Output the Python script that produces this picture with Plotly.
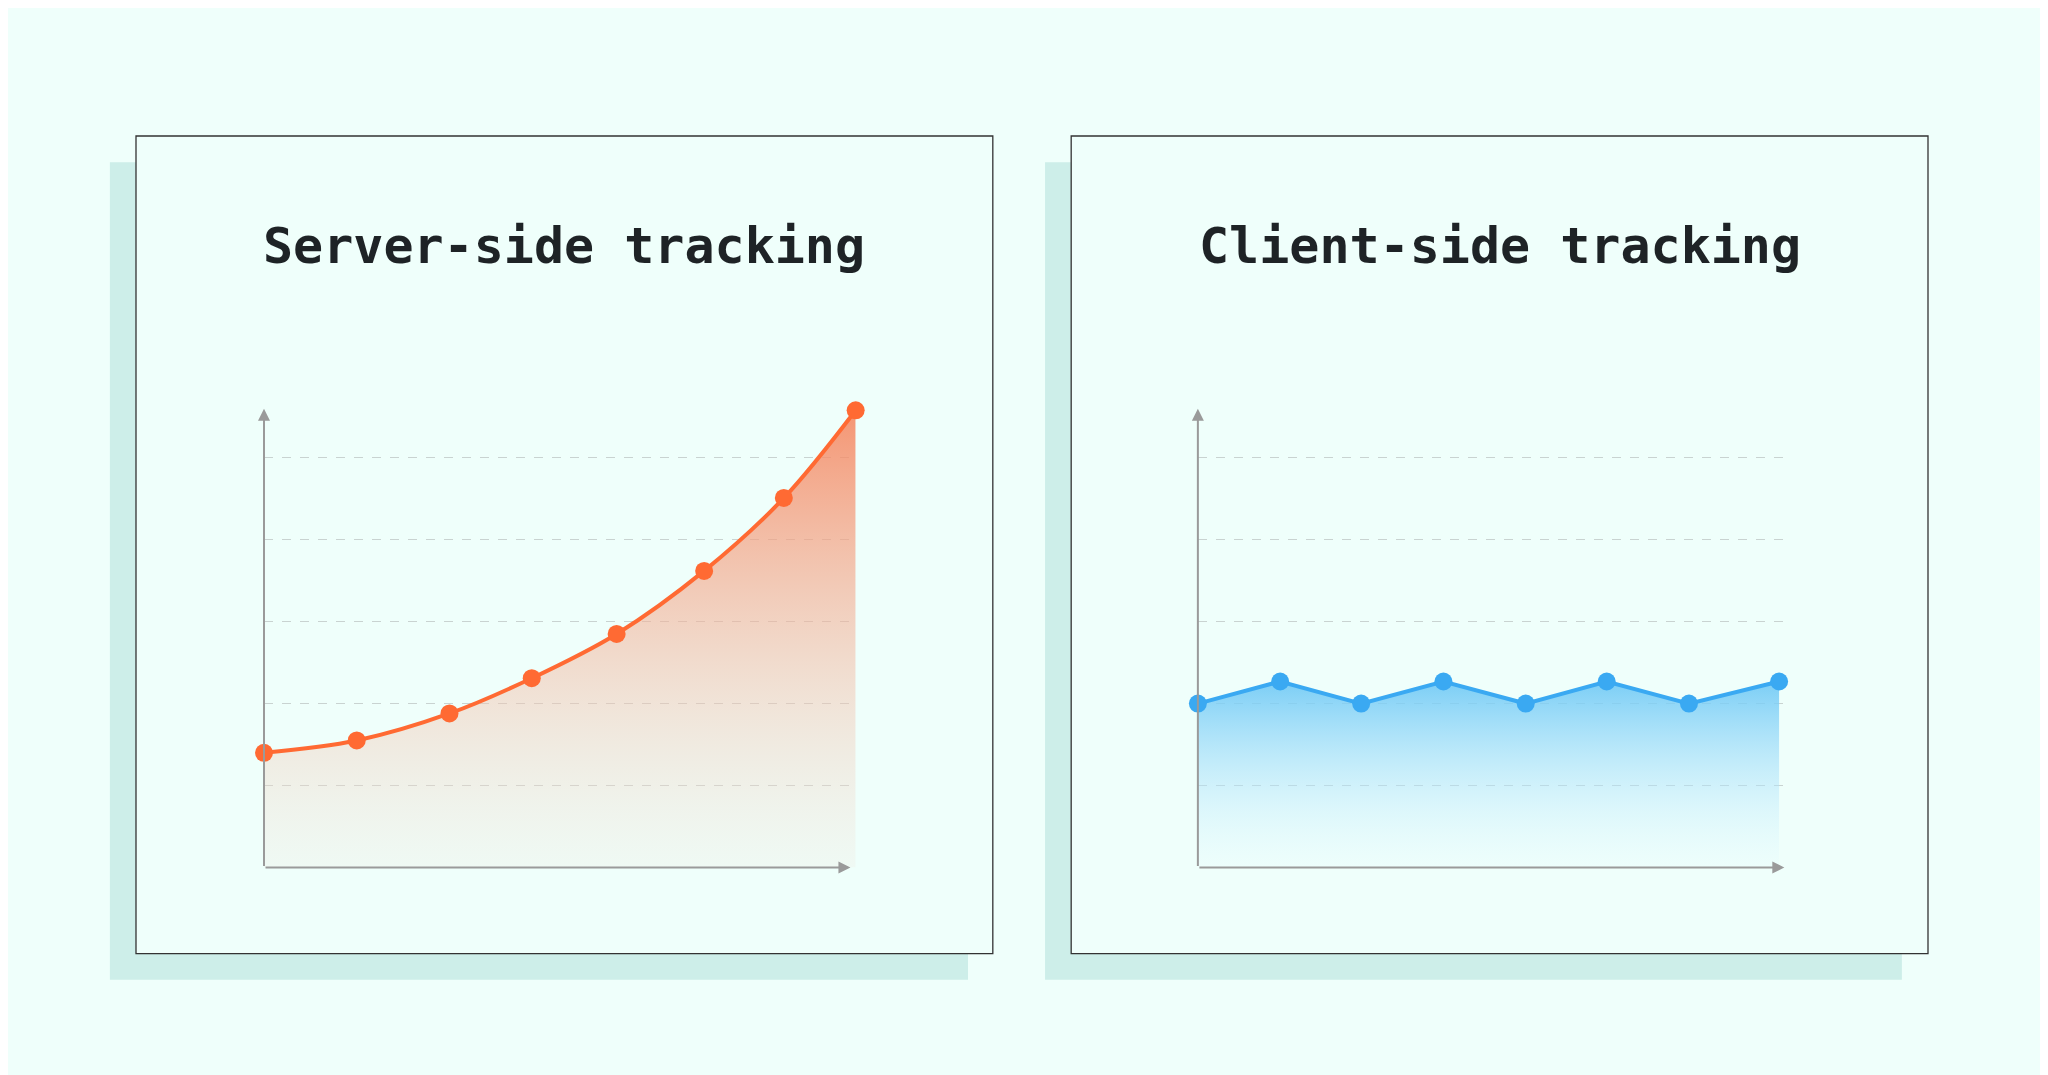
import plotly.graph_objects as go

# data
server_x = [0, 71, 142, 205, 270, 337, 398, 453]
server_y = [1.40, 1.55, 1.88, 2.31, 2.85, 3.62, 4.51, 5.58]
client_x = [0, 63, 125, 188, 251, 313, 376, 445]
client_y = [2.0, 2.27, 2.0, 2.27, 2.0, 2.27, 2.0, 2.27]
titles = ["Server-side tracking", "Client-side tracking"]

W, H = 1568, 823  # design units -> paper
px = lambda v: v / W
py = lambda v: 1 - v / H

bg = "#effffb"
shadow = "#cdeee9"
axis_c = "#9a9a9a"

fig = go.Figure()
fig.add_trace(go.Scatter(
    x=server_x, y=server_y, mode="lines+markers", line=dict(color="#ff6a33", width=4, shape="spline"),
    marker=dict(size=18, color="#ff6a33"), fill="tozeroy",
    fillgradient=dict(type="vertical", colorscale=[[0, "rgba(240,232,222,0.25)"], [1, "rgba(246,130,90,0.85)"]]),
    cliponaxis=False, xaxis="x", yaxis="y", showlegend=False))
fig.add_trace(go.Scatter(
    x=client_x, y=client_y, mode="lines+markers", line=dict(color="#3aa9f2", width=4),
    marker=dict(size=18, color="#3aa9f2"), fill="tozeroy",
    fillgradient=dict(type="vertical", colorscale=[[0, "rgba(225,248,255,0.15)"], [1, "rgba(110,200,245,0.9)"]]),
    cliponaxis=False, xaxis="x2", yaxis="y2", showlegend=False))

shapes = []
for sx0, sx1, bx0, bx1 in [(78, 735, 98, 754), (794, 1450, 814, 1470)]:
    shapes.append(dict(type="rect", xref="paper", yref="paper", x0=px(sx0), x1=px(sx1), y0=py(744), y1=py(118),
                       fillcolor=shadow, line=dict(width=0), layer="below"))
    shapes.append(dict(type="rect", xref="paper", yref="paper", x0=px(bx0), x1=px(bx1), y0=py(724), y1=py(98),
                       fillcolor=bg, line=dict(color="#333", width=1.3), layer="below"))

annotations = []
for t, cx in zip(titles, [426, 1142]):
    annotations.append(dict(text=t, xref="paper", yref="paper", x=px(cx), y=py(182), showarrow=False,
                            xanchor="center", yanchor="middle",
                            font=dict(family="DejaVu Sans Mono", size=50, color="#1e2326", weight="bold")))
# axis arrows
for xa, ya, xend in [("x", "y", 449), ("x2", "y2", 449)]:
    annotations.append(dict(xref=xa, yref=ya, axref=xa, ayref=ya, x=xend, y=0, ax=0, ay=0, text="",
                            showarrow=True, arrowhead=2, arrowsize=1.2, arrowwidth=2, arrowcolor=axis_c))
    annotations.append(dict(xref=xa, yref=ya, axref=xa, ayref=ya, x=0, y=5.6, ax=0, ay=0, text="",
                            showarrow=True, arrowhead=2, arrowsize=1.2, arrowwidth=2, arrowcolor=axis_c))

ax_common = dict(showticklabels=False, zeroline=False, showline=False, ticks="")
grid = dict(showgrid=True, gridcolor="#c9d3d1", griddash="dash", gridwidth=1, tickvals=[1, 2, 3, 4, 5])
fig.update_layout(
    width=2048, height=1075, margin=dict(l=0, r=0, t=0, b=0),
    paper_bgcolor=bg, plot_bgcolor="rgba(0,0,0,0)",
    xaxis=dict(domain=[px(196), px(649)], range=[0, 453], showgrid=False, **ax_common),
    yaxis=dict(domain=[1 - 658 / H, 1 - 308 / H], range=[0, 5.58], **grid, **ax_common),
    xaxis2=dict(domain=[px(911), px(1362)], range=[0, 451], showgrid=False, **ax_common),
    yaxis2=dict(domain=[1 - 658 / H, 1 - 308 / H], range=[0, 5.58], anchor="x2", **grid, **ax_common),
    shapes=shapes, annotations=annotations,
)
fig.write_html("out.html")
